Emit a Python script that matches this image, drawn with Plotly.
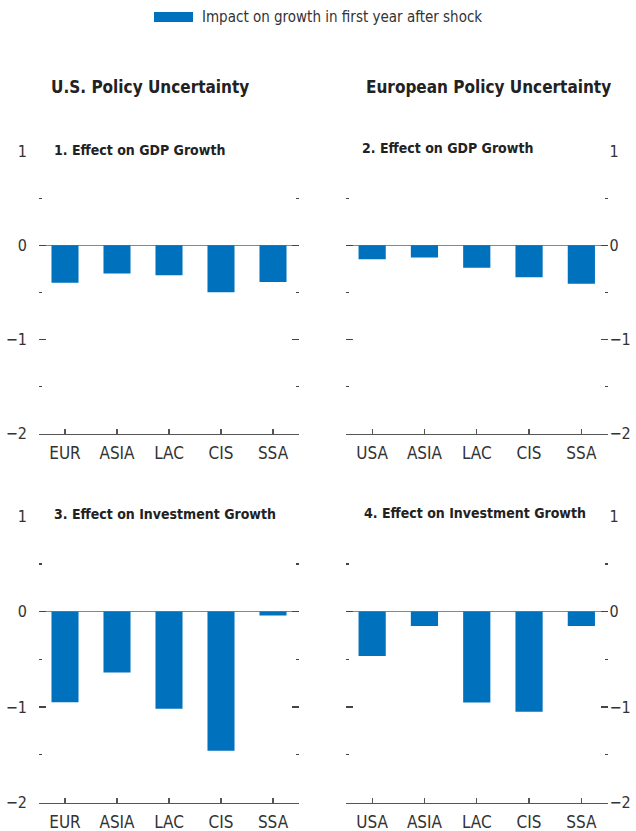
import plotly.graph_objects as go

categories_us = ["EUR", "ASIA", "LAC", "CIS", "SSA"]
categories_eu = ["USA", "ASIA", "LAC", "CIS", "SSA"]
gdp_us = [-0.40, -0.30, -0.32, -0.50, -0.39]
gdp_eu = [-0.15, -0.13, -0.24, -0.34, -0.41]
inv_us = [-0.95, -0.64, -1.02, -1.46, -0.04]
inv_eu = [-0.465, -0.15, -0.955, -1.05, -0.15]
ytickvals = [1, 0, -1, -2]
panel_titles = ["1. Effect on GDP Growth", "2. Effect on GDP Growth",
                "3. Effect on Investment Growth", "4. Effect on Investment Growth"]
column_titles = ["U.S. Policy Uncertainty", "European Policy Uncertainty"]
legend_label = "Impact on growth in first year after shock"

BLUE = "#0071bc"
FONT = "DejaVu Sans Condensed, Liberation Sans, sans-serif"
W, H = 636, 831


def px(x):
    return x / W


def py(y):
    return 1 - y / H


xdoms = [(px(39), px(299)), (px(346), px(607.5))]
ydoms = [(py(433.5), py(151)), (py(802.5), py(516))]

panels = [
    (categories_us, gdp_us, 0, 0),
    (categories_eu, gdp_eu, 1, 0),
    (categories_us, inv_us, 0, 1),
    (categories_eu, inv_eu, 1, 1),
]

fig = go.Figure()
layout = {}
for i, (cats, vals, col, row) in enumerate(panels):
    n = i + 1
    xa = "x" if n == 1 else f"x{n}"
    ya = "y" if n == 1 else f"y{n}"
    fig.add_trace(go.Bar(x=cats, y=vals, marker=dict(color=BLUE, line=dict(width=0)),
                         width=0.52, xaxis=xa, yaxis=ya, showlegend=False))
    layout[f"xaxis{'' if n == 1 else n}"] = dict(
        domain=xdoms[col], anchor=ya, showline=True, linecolor="#555", linewidth=1.2,
        ticks="inside", ticklen=5, tickcolor="#555", tickwidth=1.2,
        showgrid=False, zeroline=False, fixedrange=True, automargin=False,
        tickfont=dict(family=FONT, size=17, color="#333"), ticklabelstandoff=4,
    )
    layout[f"yaxis{'' if n == 1 else n}"] = dict(
        domain=ydoms[row], anchor=xa, range=[-2.003, 1.003], tickvals=ytickvals,
        side="left" if col == 0 else "right",
        showline=False, ticks="inside", ticklen=7, tickcolor="#444", tickwidth=1.3,
        mirror="ticks", showgrid=False, automargin=False,
        zeroline=True, zerolinecolor="#888", zerolinewidth=1.5,
        minor=dict(ticks="inside", ticklen=3, tickvals=[0.5, -0.5, -1.5], tickcolor="#444",
                   tickwidth=1.3, showgrid=False),
        tickfont=dict(family=FONT, size=16, color="#333"),
        ticklabelstandoff=11 if col == 0 else 1,
        fixedrange=True,
    )

annotations = []
col_title_x = [150, 488]
for cx, t in zip(col_title_x, column_titles):
    annotations.append(dict(text=f"<b>{t}</b>", x=px(cx), y=py(87), xref="paper", yref="paper",
                            showarrow=False, font=dict(family=FONT, size=17, color="#222"),
                            xanchor="center", yanchor="middle"))
title_pos = [(52, 150), (360, 148), (52, 514), (362, 513)]
for (tx, ty), t in zip(title_pos, panel_titles):
    annotations.append(dict(text=f"<b>{t}</b>", x=px(tx), y=py(ty), xref="paper",
                            yref="paper", showarrow=False,
                            font=dict(family=FONT, size=14, color="#222"),
                            xanchor="left", yanchor="middle"))
annotations.append(dict(text=legend_label, x=px(200), y=py(17), xref="paper", yref="paper",
                        showarrow=False, font=dict(family=FONT, size=15, color="#333"),
                        xanchor="left", yanchor="middle"))

shapes = [dict(type="rect", xref="paper", yref="paper", x0=px(154), x1=px(193),
               y0=py(22), y1=py(12), fillcolor=BLUE, line=dict(width=0))]

fig.update_layout(
    width=W, height=H, margin=dict(l=0, r=0, t=0, b=0, autoexpand=False),
    paper_bgcolor="white", plot_bgcolor="white", bargap=0.48,
    annotations=annotations, shapes=shapes, showlegend=False, **layout,
)
fig.write_html(
    "out.html",
    config={"displayModeBar": False, "staticPlot": True},
    post_script="document.body.style.margin='0';document.body.style.overflow='hidden';",
)
